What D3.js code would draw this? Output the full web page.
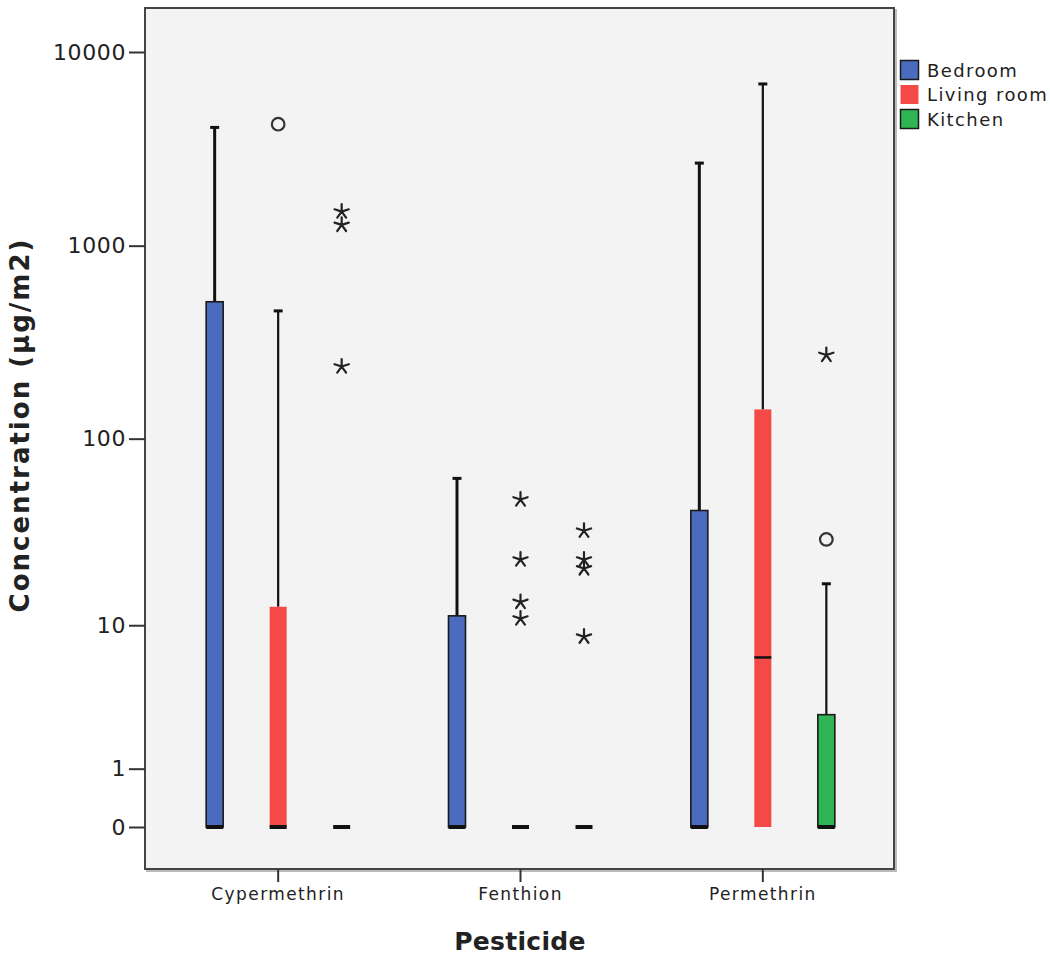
<!DOCTYPE html>
<html>
<head>
<meta charset="utf-8">
<script src="https://cdn.jsdelivr.net/npm/d3@7"></script>
<style>
  html, body { margin: 0; padding: 0; background: #ffffff; }
  svg { display: block; }
  text { font-family: "DejaVu Sans", sans-serif; fill: #222; }
</style>
</head>
<body>
<svg id="chart" width="1050" height="957"></svg>
<script>
// ---------- data ----------
const categories = ["Cypermethrin", "Fenthion", "Permethrin"];
const groups = ["Bedroom", "Living room", "Kitchen"];
const groupColors = ["#4b6cbe", "#f44a47", "#2fb553"];
const yTickValues = [0, 1, 10, 100, 1000, 10000];

// [category][group]
const boxQ1 = [[0, 0, 0], [0, 0, 0], [0, 0, 0]];
const boxMedian = [[0, 0, 0], [0, 0, 0], [0, 6.5, 0]];
const boxQ3 = [[513, 12.7, 0], [11.3, 0, 0], [42, 142, 2.8]];
const whiskerTop = [[4080, 460, null], [62, null, null], [2670, 6840, 17]];

// outliers (circles) and extremes (stars)
const outlierCat = ["Cypermethrin", "Permethrin"];
const outlierGroup = ["Living room", "Kitchen"];
const outlierVal = [4240, 29.5];

const extremeCat = ["Cypermethrin", "Cypermethrin", "Cypermethrin",
  "Fenthion", "Fenthion", "Fenthion", "Fenthion",
  "Fenthion", "Fenthion", "Fenthion", "Fenthion",
  "Permethrin"];
const extremeGroup = ["Kitchen", "Kitchen", "Kitchen",
  "Living room", "Living room", "Living room", "Living room",
  "Kitchen", "Kitchen", "Kitchen", "Kitchen",
  "Kitchen"];
const extremeVal = [1500, 1280, 237,
  48, 23, 13.5, 10.9,
  32.8, 23, 20.6, 8.6,
  272];

// ---------- layout ----------
const svg = d3.select("#chart");
const frame = { left: 145, top: 8, right: 894, bottom: 869 };

const x = d3.scaleBand().domain(categories).range([157, 884]);
const xg = d3.scalePoint().domain(groups).range([-63.5, 63.5]);
const y = d3.scaleSymlog().constant(1).domain([0, 10000]).range([827, 52]);
const color = d3.scaleOrdinal().domain(groups).range(groupColors);
const boxW = 17;

const cx = (c, g) => x(c) + x.bandwidth() / 2 + xg(g);

// frame shadow + background
svg.append("rect")
  .attr("x", frame.left + 2).attr("y", frame.top + 2)
  .attr("width", frame.right - frame.left).attr("height", frame.bottom - frame.top)
  .attr("fill", "none").attr("stroke", "#bbb").attr("stroke-width", 2);
svg.append("rect")
  .attr("x", frame.left).attr("y", frame.top)
  .attr("width", frame.right - frame.left).attr("height", frame.bottom - frame.top)
  .attr("fill", "#f3f3f3").attr("stroke", "#444").attr("stroke-width", 2);

// y axis
const yAxis = d3.axisLeft(y).tickValues(yTickValues).tickSize(16).tickPadding(3)
  .tickFormat(d3.format("d"));
const gy = svg.append("g").attr("transform", `translate(${frame.left},0)`).call(yAxis);
gy.select(".domain").remove();
gy.selectAll(".tick line").attr("stroke", "#333").attr("stroke-width", 2);
gy.selectAll(".tick text").attr("font-size", 22).attr("letter-spacing", "0.6px")
  .attr("fill", "#222").style("font-family", "DejaVu Sans, sans-serif");

// x axis
const xAxis = d3.axisBottom(x).tickSize(13).tickPadding(6);
const gx = svg.append("g").attr("transform", `translate(0,${frame.bottom})`).call(xAxis);
gx.select(".domain").remove();
gx.selectAll(".tick line").attr("stroke", "#333").attr("stroke-width", 2);
gx.selectAll(".tick text").attr("font-size", 17).attr("letter-spacing", "1.4px")
  .attr("fill", "#222").style("font-family", "DejaVu Sans, sans-serif");

// axis titles
svg.append("text")
  .attr("transform", `translate(29,${(237 + 613) / 2}) rotate(-90)`)
  .attr("text-anchor", "middle")
  .attr("font-size", 26).attr("font-weight", "bold").attr("letter-spacing", "2px")
  .text("Concentration (µg/m2)");
svg.append("text")
  .attr("x", 520).attr("y", 950)
  .attr("text-anchor", "middle")
  .attr("font-size", 25).attr("font-weight", "bold").attr("letter-spacing", "0.3px")
  .text("Pesticide");

// ---------- boxes ----------
const boxes = [];
categories.forEach((c, ci) => groups.forEach((g, gi) => {
  boxes.push({ c, g, gi, q1: boxQ1[ci][gi], med: boxMedian[ci][gi], q3: boxQ3[ci][gi], wt: whiskerTop[ci][gi] });
}));

const gBox = svg.append("g");
// whiskers
boxes.filter(b => b.wt !== null).forEach(b => {
  const xc = cx(b.c, b.g);
  const sw = b.gi === 0 ? 3 : 2.2;
  gBox.append("line")
    .attr("x1", xc).attr("x2", xc).attr("y1", y(b.q3)).attr("y2", y(b.wt))
    .attr("stroke", "#111").attr("stroke-width", sw);
  gBox.append("line")
    .attr("x1", xc - 4.5).attr("x2", xc + 4.5).attr("y1", y(b.wt)).attr("y2", y(b.wt))
    .attr("stroke", "#111").attr("stroke-width", 3);
});
// boxes
boxes.filter(b => b.q3 > b.q1).forEach(b => {
  const xc = cx(b.c, b.g);
  gBox.append("rect")
    .attr("x", xc - boxW / 2).attr("y", y(b.q3))
    .attr("width", boxW).attr("height", y(b.q1) - y(b.q3))
    .attr("fill", color(b.g))
    .attr("stroke", b.gi === 1 ? "none" : "#1a1a1a")
    .attr("stroke-width", 1.6);
});
// medians
boxes.forEach(b => {
  const xc = cx(b.c, b.g);
  const zero = b.med === 0;
  gBox.append("line")
    .attr("x1", xc - boxW / 2).attr("x2", xc + boxW / 2)
    .attr("y1", y(b.med)).attr("y2", y(b.med))
    .attr("stroke", "#111").attr("stroke-width", zero ? 4 : 2.5);
});

// outliers (circles)
svg.append("g").selectAll("circle")
  .data(outlierVal.map((v, i) => ({ v, c: outlierCat[i], g: outlierGroup[i] })))
  .join("circle")
  .attr("cx", d => cx(d.c, d.g)).attr("cy", d => y(d.v)).attr("r", 6.3)
  .attr("fill", "none").attr("stroke", "#333").attr("stroke-width", 2.2);

// extremes (5-armed asterisks)
const starPath = (() => {
  const p = d3.path();
  const r = 7.5;
  for (let k = 0; k < 5; k++) {
    const a = -Math.PI / 2 + k * 2 * Math.PI / 5;
    p.moveTo(0, 0);
    p.lineTo(r * Math.cos(a), r * Math.sin(a));
  }
  return p.toString();
})();
svg.append("g").selectAll("path")
  .data(extremeVal.map((v, i) => ({ v, c: extremeCat[i], g: extremeGroup[i] })))
  .join("path")
  .attr("transform", d => `translate(${cx(d.c, d.g)},${y(d.v)})`)
  .attr("d", starPath)
  .attr("fill", "none").attr("stroke", "#222").attr("stroke-width", 2.2).attr("stroke-linecap", "round");

// ---------- legend ----------
const leg = svg.append("g").attr("transform", "translate(900,60)");
groups.forEach((g, i) => {
  const row = leg.append("g").attr("transform", `translate(0,${i * 24.5})`);
  row.append("rect").attr("x", 0.5).attr("y", 0.5).attr("width", 18).attr("height", 19)
    .attr("fill", color(g)).attr("stroke", i === 1 ? "none" : "#1a1a1a").attr("stroke-width", 1.5);
  row.append("text").attr("x", 27).attr("y", 16.5)
    .attr("font-size", 18).attr("letter-spacing", "1.4px").text(g);
});
</script>
</body>
</html>
